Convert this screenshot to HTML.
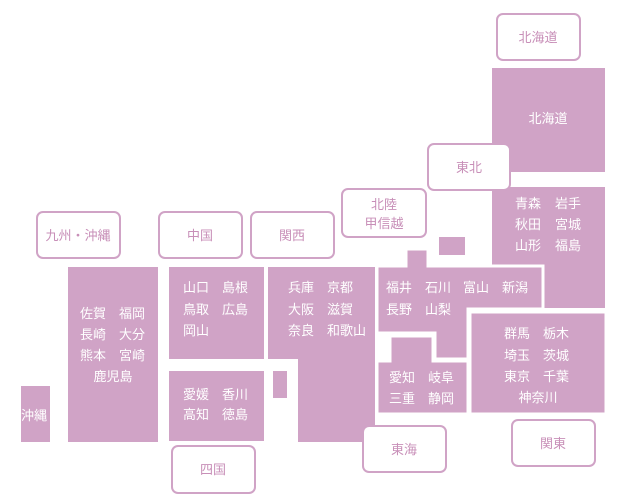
<!DOCTYPE html>
<html><head><meta charset="utf-8"><style>
html,body{margin:0;padding:0;background:#fff;}
svg{display:block;font-family:"Liberation Sans","Noto Sans CJK JP",sans-serif;}
.b{fill:#d0a3c6;}
.w{stroke:#fff;stroke-width:3;}
.l{fill:#fff;stroke:#d0a3c6;stroke-width:2;}
.t{fill:#fff;font-size:13px;}
.lt{fill:#c88fb8;font-size:13px;text-anchor:middle;}
</style></head><body>
<svg width="640" height="500" viewBox="0 0 640 500">
<rect class="b" x="492" y="68" width="113" height="104"/>
<polygon class="b" points="492,187 605,187 605,308 542,308 542,266 492,266"/>
<rect class="b" x="439" y="237" width="26" height="18"/>
<polygon class="b w" points="406,249 428,249 428,266 543,266 543,309 468,309 468,359 435,359 435,333 377,333 377,266 406,266"/>
<rect class="b w" x="470" y="312" width="136" height="102"/>
<polygon class="b w" points="390,336 433,336 433,361 468,361 468,414 377,414 377,361 390,361"/>
<polygon class="b" points="268,267 375,267 375,442 298,442 298,359 268,359"/>
<rect class="b" x="273" y="371" width="14" height="27"/>
<rect class="b" x="169" y="267" width="95" height="92"/>
<rect class="b" x="169" y="371" width="95" height="70"/>
<rect class="b" x="68" y="267" width="90" height="175"/>
<rect class="b" x="21" y="386" width="29" height="56"/>
<rect class="l" x="497" y="14" width="83" height="46" rx="6"/><text class="lt" x="538" y="42">北海道</text>
<rect class="l" x="428" y="144" width="82" height="46" rx="6"/><text class="lt" x="469" y="172">東北</text>
<rect class="l" x="342" y="189" width="84" height="48" rx="6"/><text class="lt" x="384" y="209">北陸</text><text class="lt" x="384" y="228">甲信越</text>
<rect class="l" x="37" y="212" width="83" height="46" rx="6"/><text class="lt" x="78" y="240">九州・沖縄</text>
<rect class="l" x="159" y="212" width="83" height="46" rx="6"/><text class="lt" x="200" y="240">中国</text>
<rect class="l" x="251" y="212" width="83" height="46" rx="6"/><text class="lt" x="292" y="240">関西</text>
<rect class="l" x="172" y="446" width="83" height="47" rx="6"/><text class="lt" x="213" y="474">四国</text>
<rect class="l" x="363" y="426" width="83" height="46" rx="6"/><text class="lt" x="404" y="454">東海</text>
<rect class="l" x="512" y="420" width="83" height="46" rx="6"/><text class="lt" x="553" y="448">関東</text>
<g class="t">
<text x="548" y="123" text-anchor="middle">北海道</text>
<text x="515" y="208">青森</text><text x="555" y="208">岩手</text>
<text x="515" y="229">秋田</text><text x="555" y="229">宮城</text>
<text x="515" y="250">山形</text><text x="555" y="250">福島</text>
<text x="386" y="292">福井</text><text x="425" y="292">石川</text><text x="463" y="292">富山</text><text x="502" y="292">新潟</text>
<text x="386" y="314">長野</text><text x="425" y="314">山梨</text>
<text x="504" y="338">群馬</text><text x="543" y="338">栃木</text>
<text x="504" y="360">埼玉</text><text x="543" y="360">茨城</text>
<text x="504" y="381">東京</text><text x="543" y="381">千葉</text>
<text x="538" y="402" text-anchor="middle">神奈川</text>
<text x="389" y="382">愛知</text><text x="428" y="382">岐阜</text>
<text x="389" y="403">三重</text><text x="428" y="403">静岡</text>
<text x="288" y="292">兵庫</text><text x="327" y="292">京都</text>
<text x="288" y="314">大阪</text><text x="327" y="314">滋賀</text>
<text x="288" y="335">奈良</text><text x="327" y="335">和歌山</text>
<text x="183" y="292">山口</text><text x="222" y="292">島根</text>
<text x="183" y="314">鳥取</text><text x="222" y="314">広島</text>
<text x="183" y="335">岡山</text>
<text x="183" y="399">愛媛</text><text x="222" y="399">香川</text>
<text x="183" y="419">高知</text><text x="222" y="419">徳島</text>
<text x="80" y="318">佐賀</text><text x="119" y="318">福岡</text>
<text x="80" y="339">長崎</text><text x="119" y="339">大分</text>
<text x="80" y="360">熊本</text><text x="119" y="360">宮崎</text>
<text x="113" y="381" text-anchor="middle">鹿児島</text>
<text x="21" y="420">沖縄</text>
</g>
</svg>
</body></html>
